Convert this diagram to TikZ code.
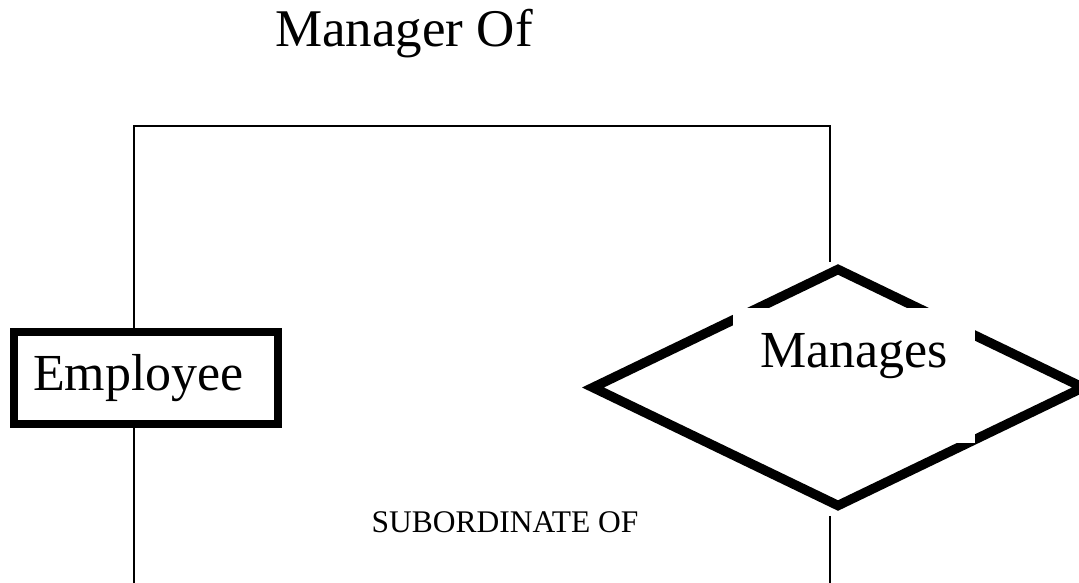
\documentclass[tikz,border=0pt]{standalone}
\usepackage{fontspec}
\setmainfont{Liberation Serif}
\usetikzlibrary{shapes.geometric}

\tikzset{
  entity/.style={draw, line width=8pt, inner xsep=19pt, inner ysep=0pt,
    text width=226pt, align=left, minimum height=92pt,
    font=\fontsize{52}{60}\selectfont},
  relation/.style={draw, diamond, line width=9.5pt, inner sep=0pt,
    minimum width=494pt, minimum height=240pt},
  rellabel/.style={fill=white, inner sep=0pt, text width=242pt, align=center,
    text height=60pt, text depth=75pt, font=\fontsize{52}{60}\selectfont},
  link/.style={line width=1.6pt},
  bigcaption/.style={font=\fontsize{53}{60}\selectfont},
  smallcaption/.style={font=\fontsize{31.5}{36}\selectfont}
}

\begin{document}
\begin{tikzpicture}[x=1pt,y=1pt]
  \useasboundingbox (0,0) rectangle (1079,583);

  % entity and relationship
  \node[entity] (emp) at (146,205) {Employee};
  \node[relation] (man) at (838,195.5) {};
  \node[rellabel, anchor=base] (manlabel) at (854,215) {Manages};

  % role captions
  \node[bigcaption, anchor=base] (mgrof) at (404,536) {Manager Of};
  \node[smallcaption, anchor=base] (subof) at (505,50) {SUBORDINATE OF};

  % corner and end points of the recursive link
  \coordinate (ctl) at (134,457);
  \coordinate (ctr) at (830,457);
  \coordinate (crend) at (830,321);
  \coordinate (bl) at (134,0);
  \coordinate (crstart) at (830,67);
  \coordinate (br) at (830,0);

  \draw[link] (emp.north -| ctl) -- (ctl) -- (ctr) -- (crend);
  \draw[link] (emp.south -| ctl) -- (bl);
  \draw[link] (crstart) -- (br);
\end{tikzpicture}
\end{document}
